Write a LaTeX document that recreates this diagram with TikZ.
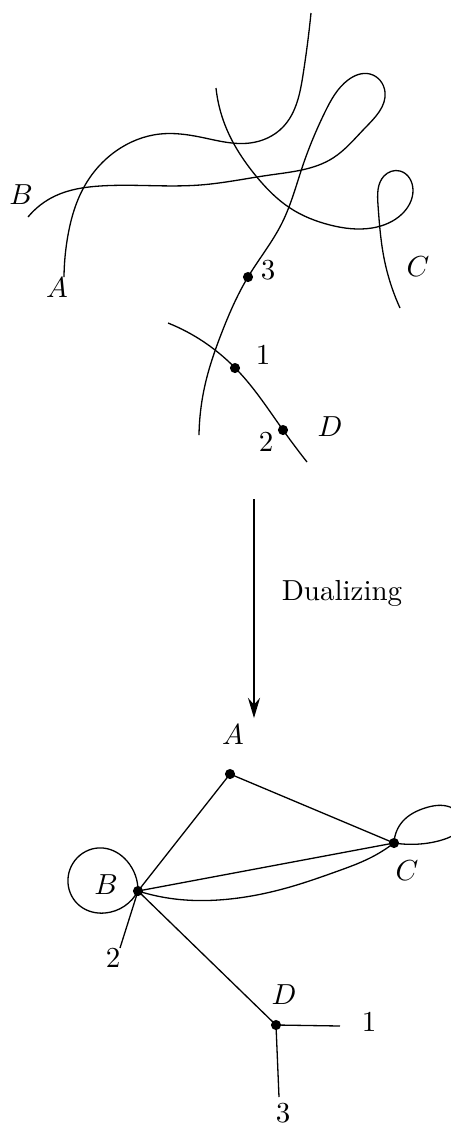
\documentclass[tikz,border=0pt]{standalone}
\usetikzlibrary{arrows.meta, hobby}
\begin{document}
\begin{tikzpicture}[
      x=0.345pt, y=-0.345pt,
      curve/.style={line width=0.45pt, line join=round, use Hobby shortcut},
      dot/.style={circle, fill=black, inner sep=0pt, minimum size=3.5pt},
      lbl/.style={inner sep=0pt},
      map/.style={line width=0.45pt, ->, >={Stealth[length=7pt, width=4.2pt, inset=2.4pt]}}
  ]
    \useasboundingbox (0,0) rectangle (451,1125);

    % curves before dualizing
    \draw[curve] (311,13) .. (303,75) .. (283,127) .. (250,143) .. (200,137) .. (160,134) .. (116,151) .. (84,187) .. (68,235) .. (64,277);
    \draw[curve] (28,217) .. (55,196) .. (100,186) .. (200,185) .. (270,175) .. (333,158) .. (365,128) .. (385,92) .. (370,74) .. (348,80) .. (325,112) .. (303,165) .. (282,223) .. (248,277) .. (222,332) .. (205,385) .. (199,435);
    \draw[curve] (216,88) .. (225,125) .. (256,176) .. (290,208) .. (330,225) .. (372,228) .. (402,214) .. (413,190) .. (400,171) .. (384,176) .. (378,205) .. (384,258) .. (400,308);
    \draw[curve] (168,323) .. (204,342) .. (240,373) .. (283,430) .. (307,462);

    \node[dot] (p3) at (248,277) {};
    \node[dot] (p1) at (235,368) {};
    \node[dot] (p2) at (283,430) {};

    \node[lbl] (cA) at (57,288) {$A$};
    \node[lbl] (cB) at (21,195) {$B$};
    \node[lbl] (cC) at (418,267) {$C$};
    \node[lbl] (cD) at (330,427) {$D$};
    \node[lbl] (l3) at (268,270) {3};
    \node[lbl] (l1) at (263,355) {1};
    \node[lbl] (l2) at (266,442) {2};

    % dualizing arrow
    \coordinate (arrtop) at (254,499);
    \coordinate (arrbot) at (254,718);
    \draw[map] (arrtop) -- (arrbot);
    \node (dual) at (342,593) {Dualizing};

    % dual graph
    \node[dot] (vA) at (230,774) {};
    \node[dot] (vB) at (138,891) {};
    \node[dot] (vC) at (394,843) {};
    \node[dot] (vD) at (276,1025) {};
    \coordinate (h2) at (120,948);
    \coordinate (h1) at (340,1026);
    \coordinate (h3) at (279,1097);

    \node[lbl] (gA) at (233,735) {$A$};
    \node[lbl] (gB) at (106,885) {$B$};
    \node[lbl] (gC) at (407,871) {$C$};
    \node[lbl] (gD) at (284,995) {$D$};
    \node[lbl] (g2) at (113,958) {2};
    \node[lbl] (g1) at (369,1022) {1};
    \node[lbl] (g3) at (283,1113) {3};

    \draw[curve] (vA.center) -- (vB.center);
    \draw[curve] (vA.center) -- (vC.center);
    \draw[curve] (vB.center) -- (vC.center);
    \draw[curve] (vB.center) -- (vD.center);
    \draw[curve] (vB.center) -- (h2);
    \draw[curve] (vD.center) -- (h1);
    \draw[curve] (vD.center) -- (h3);
    \draw[curve] (vB.center) .. (175,899) .. (230,899) .. (290,887) .. (338,871) .. (370,858) .. (vC.center);
    \draw[curve] (vB.center) .. (127,861) .. (103,848) .. (77,858) .. (68,883) .. (80,906) .. (105,913) .. (vB.center);
    \draw[curve] (vC.center) .. (403,821) .. (425,808) .. (450,807) .. (462,823) .. (445,839) .. (420,844) .. (vC.center);
  \end{tikzpicture}
\end{document}
